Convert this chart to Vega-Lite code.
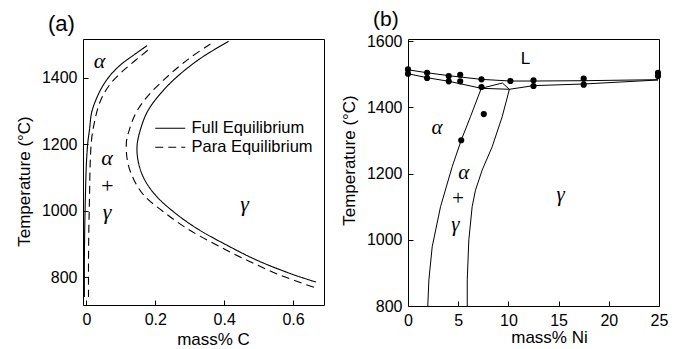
{
  "$schema": "https://vega.github.io/schema/vega-lite/v6.json",
  "padding": {"left": 14, "top": 8, "right": 0, "bottom": 0},
  "spacing": 14,
  "config": {
    "view": {"stroke": "black", "strokeWidth": 1},
    "font": "Liberation Sans",
    "axis": {"domain": false, "grid": false, "tickSize": -5, "tickColor": "black", "labelPadding": 11, "labelFont": "Liberation Sans", "labelFontSize": 16, "labelColor": "black", "titleFont": "Liberation Sans", "titleFontSize": 17, "titleFontWeight": "normal", "titleColor": "black", "labelFlush": false, "labelOverlap": false, "titlePadding": 8},
    "axisX": {"titlePadding": 4},
    "title": {"font": "Liberation Sans", "fontSize": 21, "fontWeight": "normal", "anchor": "start", "frame": "group", "color": "black", "offset": 3}
  },
  "datasets": {
    "curvesA": [
      {"line": "FL", "eq": "Full Equilibrium", "i": 1, "x": 0.176, "T": 1497},
      {"line": "FL", "eq": "Full Equilibrium", "i": 2, "x": 0.139, "T": 1470},
      {"line": "FL", "eq": "Full Equilibrium", "i": 3, "x": 0.100, "T": 1440},
      {"line": "FL", "eq": "Full Equilibrium", "i": 4, "x": 0.071, "T": 1410},
      {"line": "FL", "eq": "Full Equilibrium", "i": 5, "x": 0.047, "T": 1375},
      {"line": "FL", "eq": "Full Equilibrium", "i": 6, "x": 0.028, "T": 1335},
      {"line": "FL", "eq": "Full Equilibrium", "i": 7, "x": 0.015, "T": 1295},
      {"line": "FL", "eq": "Full Equilibrium", "i": 8, "x": 0.009, "T": 1245},
      {"line": "FL", "eq": "Full Equilibrium", "i": 9, "x": 0.004, "T": 1205},
      {"line": "FL", "eq": "Full Equilibrium", "i": 10, "x": 0.000, "T": 1145},
      {"line": "FL", "eq": "Full Equilibrium", "i": 11, "x": -0.003, "T": 1045},
      {"line": "FL", "eq": "Full Equilibrium", "i": 12, "x": -0.005, "T": 945},
      {"line": "FL", "eq": "Full Equilibrium", "i": 13, "x": -0.006, "T": 845},
      {"line": "FL", "eq": "Full Equilibrium", "i": 14, "x": -0.006, "T": 740},
      {"line": "PL", "eq": "Para Equilibrium", "i": 1, "x": 0.178, "T": 1483},
      {"line": "PL", "eq": "Para Equilibrium", "i": 2, "x": 0.139, "T": 1450},
      {"line": "PL", "eq": "Para Equilibrium", "i": 3, "x": 0.105, "T": 1420},
      {"line": "PL", "eq": "Para Equilibrium", "i": 4, "x": 0.076, "T": 1390},
      {"line": "PL", "eq": "Para Equilibrium", "i": 5, "x": 0.052, "T": 1355},
      {"line": "PL", "eq": "Para Equilibrium", "i": 6, "x": 0.035, "T": 1315},
      {"line": "PL", "eq": "Para Equilibrium", "i": 7, "x": 0.023, "T": 1265},
      {"line": "PL", "eq": "Para Equilibrium", "i": 8, "x": 0.015, "T": 1215},
      {"line": "PL", "eq": "Para Equilibrium", "i": 9, "x": 0.011, "T": 1145},
      {"line": "PL", "eq": "Para Equilibrium", "i": 10, "x": 0.009, "T": 1045},
      {"line": "PL", "eq": "Para Equilibrium", "i": 11, "x": 0.007, "T": 945},
      {"line": "PL", "eq": "Para Equilibrium", "i": 12, "x": 0.006, "T": 845},
      {"line": "PL", "eq": "Para Equilibrium", "i": 13, "x": 0.006, "T": 740},
      {"line": "FR", "eq": "Full Equilibrium", "i": 1, "x": 0.413, "T": 1510},
      {"line": "FR", "eq": "Full Equilibrium", "i": 2, "x": 0.333, "T": 1460},
      {"line": "FR", "eq": "Full Equilibrium", "i": 3, "x": 0.265, "T": 1405},
      {"line": "FR", "eq": "Full Equilibrium", "i": 4, "x": 0.217, "T": 1355},
      {"line": "FR", "eq": "Full Equilibrium", "i": 5, "x": 0.178, "T": 1300},
      {"line": "FR", "eq": "Full Equilibrium", "i": 6, "x": 0.157, "T": 1245},
      {"line": "FR", "eq": "Full Equilibrium", "i": 7, "x": 0.147, "T": 1195},
      {"line": "FR", "eq": "Full Equilibrium", "i": 8, "x": 0.151, "T": 1145},
      {"line": "FR", "eq": "Full Equilibrium", "i": 9, "x": 0.168, "T": 1095},
      {"line": "FR", "eq": "Full Equilibrium", "i": 10, "x": 0.202, "T": 1045},
      {"line": "FR", "eq": "Full Equilibrium", "i": 11, "x": 0.255, "T": 995},
      {"line": "FR", "eq": "Full Equilibrium", "i": 12, "x": 0.323, "T": 945},
      {"line": "FR", "eq": "Full Equilibrium", "i": 13, "x": 0.410, "T": 895},
      {"line": "FR", "eq": "Full Equilibrium", "i": 14, "x": 0.497, "T": 850},
      {"line": "FR", "eq": "Full Equilibrium", "i": 15, "x": 0.594, "T": 810},
      {"line": "FR", "eq": "Full Equilibrium", "i": 16, "x": 0.667, "T": 785},
      {"line": "PR", "eq": "Para Equilibrium", "i": 1, "x": 0.360, "T": 1502},
      {"line": "PR", "eq": "Para Equilibrium", "i": 2, "x": 0.294, "T": 1455},
      {"line": "PR", "eq": "Para Equilibrium", "i": 3, "x": 0.231, "T": 1400},
      {"line": "PR", "eq": "Para Equilibrium", "i": 4, "x": 0.178, "T": 1345},
      {"line": "PR", "eq": "Para Equilibrium", "i": 5, "x": 0.144, "T": 1295},
      {"line": "PR", "eq": "Para Equilibrium", "i": 6, "x": 0.125, "T": 1245},
      {"line": "PR", "eq": "Para Equilibrium", "i": 7, "x": 0.116, "T": 1205},
      {"line": "PR", "eq": "Para Equilibrium", "i": 8, "x": 0.120, "T": 1145},
      {"line": "PR", "eq": "Para Equilibrium", "i": 9, "x": 0.137, "T": 1095},
      {"line": "PR", "eq": "Para Equilibrium", "i": 10, "x": 0.168, "T": 1045},
      {"line": "PR", "eq": "Para Equilibrium", "i": 11, "x": 0.226, "T": 995},
      {"line": "PR", "eq": "Para Equilibrium", "i": 12, "x": 0.294, "T": 945},
      {"line": "PR", "eq": "Para Equilibrium", "i": 13, "x": 0.381, "T": 895},
      {"line": "PR", "eq": "Para Equilibrium", "i": 14, "x": 0.468, "T": 850},
      {"line": "PR", "eq": "Para Equilibrium", "i": 15, "x": 0.565, "T": 805},
      {"line": "PR", "eq": "Para Equilibrium", "i": 16, "x": 0.667, "T": 767}
    ],
    "labelsA": [
      {"x": 0.038, "T": 1450, "label": "α"},
      {"x": 0.060, "T": 1160, "label": "α"},
      {"x": 0.060, "T": 1075, "label": "+"},
      {"x": 0.060, "T": 995, "label": "γ"},
      {"x": 0.459, "T": 1020, "label": "γ"}
    ],
    "linesB": [
      {"seg": "liq", "i": 1, "x": 0, "T": 1514},
      {"seg": "liq", "i": 2, "x": 1.9, "T": 1505},
      {"seg": "liq", "i": 3, "x": 4.1, "T": 1496},
      {"seg": "liq", "i": 4, "x": 7.3, "T": 1485},
      {"seg": "liq", "i": 5, "x": 10.2, "T": 1480},
      {"seg": "liq", "i": 6, "x": 12.5, "T": 1480},
      {"seg": "liq", "i": 7, "x": 17.5, "T": 1481},
      {"seg": "liq", "i": 8, "x": 24.9, "T": 1484},
      {"seg": "sold", "i": 1, "x": 0, "T": 1502},
      {"seg": "sold", "i": 2, "x": 1.9, "T": 1490},
      {"seg": "sold", "i": 3, "x": 4.1, "T": 1479},
      {"seg": "sold", "i": 4, "x": 7.3, "T": 1458},
      {"seg": "per", "i": 1, "x": 7.3, "T": 1458},
      {"seg": "per", "i": 2, "x": 10.1, "T": 1455},
      {"seg": "v1", "i": 1, "x": 7.3, "T": 1458},
      {"seg": "v1", "i": 2, "x": 9.4, "T": 1474},
      {"seg": "v2", "i": 1, "x": 9.4, "T": 1474},
      {"seg": "v2", "i": 2, "x": 10.1, "T": 1455},
      {"seg": "solg", "i": 1, "x": 10.1, "T": 1455},
      {"seg": "solg", "i": 2, "x": 12.5, "T": 1466},
      {"seg": "solg", "i": 3, "x": 17.5, "T": 1471},
      {"seg": "solg", "i": 4, "x": 24.9, "T": 1483},
      {"seg": "ab1", "i": 1, "x": 7.3, "T": 1458},
      {"seg": "ab1", "i": 2, "x": 6.22, "T": 1372},
      {"seg": "ab1", "i": 3, "x": 5.3, "T": 1301},
      {"seg": "ab1", "i": 4, "x": 4.4, "T": 1221},
      {"seg": "ab1", "i": 5, "x": 3.24, "T": 1100},
      {"seg": "ab1", "i": 6, "x": 2.41, "T": 979},
      {"seg": "ab1", "i": 7, "x": 2.08, "T": 879},
      {"seg": "ab1", "i": 8, "x": 1.97, "T": 800},
      {"seg": "ab2", "i": 1, "x": 10.1, "T": 1455},
      {"seg": "ab2", "i": 2, "x": 9.38, "T": 1372},
      {"seg": "ab2", "i": 3, "x": 8.38, "T": 1281},
      {"seg": "ab2", "i": 4, "x": 7.39, "T": 1211},
      {"seg": "ab2", "i": 5, "x": 6.72, "T": 1150},
      {"seg": "ab2", "i": 6, "x": 6.39, "T": 1100},
      {"seg": "ab2", "i": 7, "x": 6.06, "T": 1000},
      {"seg": "ab2", "i": 8, "x": 5.9, "T": 879},
      {"seg": "ab2", "i": 9, "x": 5.9, "T": 800}
    ],
    "pointsB": [
      {"x": 0, "T": 1515}, {"x": 0, "T": 1502},
      {"x": 1.9, "T": 1505}, {"x": 1.9, "T": 1489},
      {"x": 4.06, "T": 1495}, {"x": 4.06, "T": 1479},
      {"x": 5.2, "T": 1499}, {"x": 5.2, "T": 1479},
      {"x": 7.32, "T": 1485}, {"x": 7.32, "T": 1462},
      {"x": 10.2, "T": 1480},
      {"x": 12.5, "T": 1482}, {"x": 12.5, "T": 1465},
      {"x": 17.5, "T": 1487}, {"x": 17.5, "T": 1469},
      {"x": 24.9, "T": 1505}, {"x": 24.9, "T": 1495},
      {"x": 7.55, "T": 1380}, {"x": 5.3, "T": 1301}
    ],
    "labelsB": [
      {"x": 2.9, "T": 1337, "label": "α"},
      {"x": 5.56, "T": 1201, "label": "α"},
      {"x": 4.96, "T": 1122, "label": "+"},
      {"x": 4.73, "T": 1045, "label": "γ"},
      {"x": 15.2, "T": 1135, "label": "γ"}
    ]
  },
  "hconcat": [
    {
      "width": 241,
      "height": 266,
      "title": {"text": "(a)", "dx": -35, "fontSize": 22},
      "encoding": {
        "x": {"field": "x", "type": "quantitative", "scale": {"domain": [-0.01, 0.69], "nice": false, "zero": false}, "axis": {"values": [0, 0.2, 0.4, 0.6], "format": "~g", "title": "mass% C", "titleX": 130}},
        "y": {"field": "T", "type": "quantitative", "scale": {"domain": [716, 1517], "nice": false, "zero": false}, "axis": {"values": [800, 1000, 1200, 1400], "format": "d", "title": "Temperature (°C)", "titleY": 142}}
      },
      "layer": [
        {
          "data": {"name": "curvesA"},
          "mark": {"type": "line", "color": "black", "strokeWidth": 1.1, "interpolate": "catmull-rom"},
          "encoding": {
            "detail": {"field": "line", "type": "nominal"},
            "order": {"field": "i", "type": "quantitative"},
            "strokeDash": {"field": "eq", "type": "nominal", "scale": {"domain": ["Full Equilibrium", "Para Equilibrium"], "range": [[1, 0], [8, 5]]},
              "legend": {"orient": "none", "legendX": 79, "legendY": 81, "title": null, "symbolType": "M-3,0H3", "symbolSize": 100, "symbolStrokeWidth": 1.1, "symbolStrokeColor": "black", "symbolFillColor": "transparent", "labelFontSize": 16.5, "labelFont": "Liberation Sans", "labelColor": "black", "rowPadding": 2, "labelOffset": 13, "padding": 0}}
          }
        },
        {
          "data": {"name": "labelsA"},
          "mark": {"type": "text", "font": "Liberation Serif", "fontStyle": "italic", "fontSize": 22, "color": "black", "align": "center", "baseline": "middle"},
          "encoding": {"text": {"field": "label"}}
        }
      ]
    },
    {
      "width": 251,
      "height": 267,
      "title": {"text": "(b)", "dx": -35},
      "encoding": {
        "x": {"field": "x", "type": "quantitative", "scale": {"domain": [0, 25], "nice": false, "zero": false}, "axis": {"values": [0, 5, 10, 15, 20, 25], "format": "d", "title": "mass% Ni", "titleX": 141, "titlePadding": 1}},
        "y": {"field": "T", "type": "quantitative", "scale": {"domain": [800, 1607], "nice": false, "zero": false}, "axis": {"values": [800, 1000, 1200, 1400, 1600], "format": "d", "title": "Temperature (°C)", "titleY": 121}}
      },
      "layer": [
        {
          "data": {"name": "linesB"},
          "mark": {"type": "line", "color": "black", "strokeWidth": 1},
          "encoding": {
            "detail": {"field": "seg", "type": "nominal"},
            "order": {"field": "i", "type": "quantitative"}
          }
        },
        {
          "data": {"name": "pointsB"},
          "mark": {"type": "circle", "color": "black", "size": 38, "opacity": 1}
        },
        {
          "data": {"name": "labelsB"},
          "mark": {"type": "text", "font": "Liberation Serif", "fontStyle": "italic", "fontSize": 21, "color": "black", "align": "center", "baseline": "middle"},
          "encoding": {"text": {"field": "label"}}
        },
        {
          "data": {"values": [{"x": 11.7, "T": 1548, "label": "L"}]},
          "mark": {"type": "text", "font": "Liberation Sans", "fontSize": 17, "color": "black", "align": "center", "baseline": "middle"},
          "encoding": {"text": {"field": "label"}}
        }
      ]
    }
  ]
}
